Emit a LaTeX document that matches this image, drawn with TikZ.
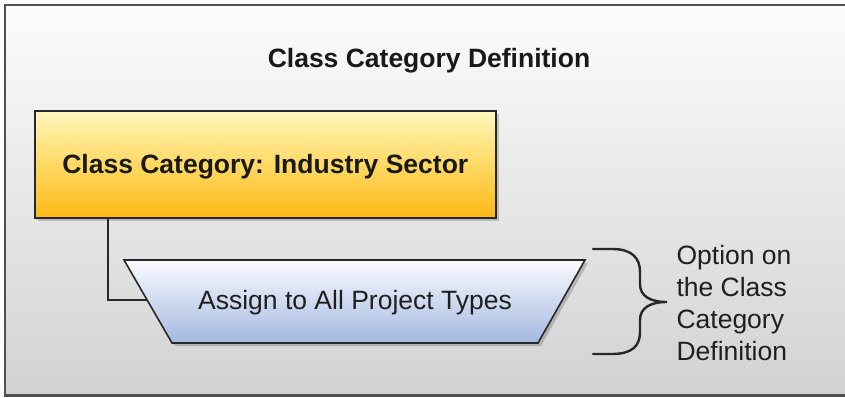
\documentclass[tikz,border=0pt]{standalone}
\usepackage{fontspec}
\setmainfont{Liberation Sans}
\usetikzlibrary{shadows}
\definecolor{framecol}{RGB}{80,80,80}
\definecolor{bgtop}{RGB}{252,252,252}
\definecolor{bgbot}{RGB}{210,210,210}
\definecolor{yeltop}{RGB}{255,247,190}
\definecolor{yelmid}{RGB}{255,217,100}
\definecolor{yelbot}{RGB}{252,184,22}
\definecolor{bluetop}{RGB}{250,251,255}
\definecolor{bluebot}{RGB}{163,184,224}
\definecolor{linecol}{RGB}{40,40,40}
\tikzset{
  boxshadow/.style={drop shadow={shadow xshift=3pt, shadow yshift=-3pt, fill=black, opacity=0.18}},
  lbl/.style={font=\fontsize{26.5}{32}\selectfont, text=black!88},
  blbl/.style={font=\bfseries\fontsize{26.5}{32}\selectfont, text=black!90},
  connector/.style={draw=linecol, line width=1.6pt},
}
\begin{document}
\begin{tikzpicture}[x=1pt,y=-1pt]
\useasboundingbox (0,0) rectangle (845,398);
\clip (0,0) rectangle (845,398);
% frame
\path[top color=bgtop, bottom color=bgbot, draw=framecol, line width=2.2pt] (5,5) rectangle (860,395.5);
% title
\node[blbl] (title) at (429,61) {Class Category Definition};
% yellow box
\node[boxshadow, draw=linecol, line width=1.6pt, top color=yeltop, bottom color=yelbot, middle color=yelmid,
      minimum width=461pt, minimum height=107pt, inner sep=0pt, anchor=north west] (cat) at (34,110) {};
\node[blbl] (catlbl) at ([yshift=-2pt]cat.center) {Class Category: Industry Sector};
% trapezoid
\path[boxshadow, draw=linecol, line width=1.6pt, top color=bluetop, bottom color=bluebot]
  (124,260) -- (585,260) -- (538,343) -- (172,343) -- cycle;
\coordinate (tleft) at (147,300);
\node[lbl] (assign) at (355,302.5) {Assign to All Project Types};
% connector
\coordinate (cstart) at (108,217);
\draw[connector] (cstart) |- (tleft);
% brace
\coordinate (btop) at (593,249);
\coordinate (bbot) at (593,354);
\coordinate (btip) at (667,302);
\draw[draw=linecol, line width=2.4pt, line cap=round]
  (btop) -- (612,249) .. controls (632,249) and (640,258) .. (640,272)
  -- (640,284) .. controls (640,296) and (650,302) .. (btip)
  .. controls (650,302) and (640,308) .. (640,320)
  -- (640,332) .. controls (640,346) and (632,354) .. (612,354) -- (bbot);
\node[lbl, align=left, anchor=west] (opt) at (673,303) {Option on\\the Class\\Category\\Definition};
\end{tikzpicture}
\end{document}
